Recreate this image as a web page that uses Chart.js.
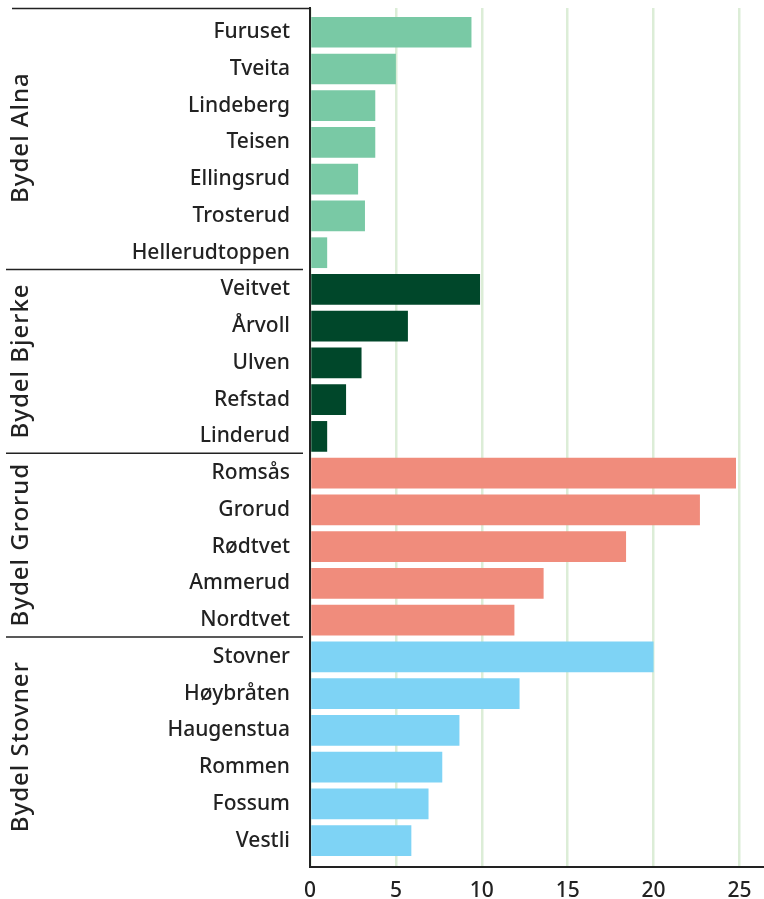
<!DOCTYPE html>
<html>
<head>
<meta charset="utf-8">
<script src="https://cdn.jsdelivr.net/npm/chart.js@4/dist/chart.umd.min.js"></script>
<style>
  html, body { margin: 0; padding: 0; background: #fff; }
  #wrap { width: 764px; height: 899px; }
</style>
</head>
<body>
<div id="wrap"><canvas id="chart"></canvas></div>
<script>
const places = ["Furuset", "Tveita", "Lindeberg", "Teisen", "Ellingsrud", "Trosterud", "Hellerudtoppen",
    "Veitvet", "Årvoll", "Ulven", "Refstad", "Linderud",
    "Romsås", "Grorud", "Rødtvet", "Ammerud", "Nordtvet",
    "Stovner", "Høybråten", "Haugenstua", "Rommen", "Fossum", "Vestli"];
const values = [9.4, 5.0, 3.8, 3.8, 2.8, 3.2, 1.0,
    9.9, 5.7, 3.0, 2.1, 1.0,
    24.8, 22.7, 18.4, 13.6, 11.9,
    20.0, 12.2, 8.7, 7.7, 6.9, 5.9];
const groupNames = ["Bydel Alna", "Bydel Bjerke", "Bydel Grorud", "Bydel Stovner"];
const groupSizes = [7, 5, 5, 6];
const xTicks = [0, 5, 10, 15, 20, 25];

const groupColors = ["#79c9a5", "#00472a", "#f08c7c", "#7ed3f5"];
const FONT = "'Noto Sans', sans-serif";

// which group each bar belongs to
let groupOf = [];
groupSizes.forEach((n, g) => { for (let i = 0; i < n; i++) groupOf.push(g); });

const groupPlugin = {
    id: "groups",
    afterDraw(chart) {
        const ctx = chart.ctx;
        const y = chart.scales.y;
        const area = chart.chartArea;
        ctx.save();
        ctx.strokeStyle = "#222";
        ctx.lineWidth = 1.5;
        // top line
        ctx.beginPath();
        ctx.moveTo(12, area.top + 0.5);
        ctx.lineTo(area.left - 1, area.top + 0.5);
        ctx.stroke();

        let start = 0;
        groupSizes.forEach((n, g) => {
            const end = start + n;
            const top = g === 0 ? area.top : y.getPixelForValue(start - 0.5);
            const bottom = y.getPixelForValue(end - 0.5);
            if (g < groupSizes.length - 1) {
                ctx.beginPath();
                ctx.moveTo(6, bottom - 1.5);
                ctx.lineTo(area.left - 7, bottom - 1.5);
                ctx.stroke();
            }
            ctx.save();
            ctx.translate(28, (top + bottom) / 2 - 2);
            ctx.rotate(-Math.PI / 2);
            ctx.fillStyle = "#222";
            ctx.font = "500 24px " + FONT;
            ctx.letterSpacing = "1px";
            ctx.textAlign = "center";
            ctx.textBaseline = "alphabetic";
            ctx.fillText(groupNames[g], 0, 0);
            ctx.restore();
            start = end;
        });
        ctx.restore();
    }
};

const ctx = document.getElementById("chart").getContext("2d");
new Chart(ctx, {
    type: "bar",
    data: {
        datasets: [{
            data: values.map((v, i) => ({ x: v, y: i })),
            backgroundColor: groupOf.map(g => groupColors[g]),
            barPercentage: 0.836,
            categoryPercentage: 1
        }]
    },
    options: {
        indexAxis: "y",
        responsive: true,
        maintainAspectRatio: false,
        animation: false,
        layout: { padding: { top: 8, right: 0, left: 0, bottom: 0 } },
        plugins: { legend: { display: false }, tooltip: { enabled: false } },
        scales: {
            x: {
                type: "linear",
                min: 0,
                max: 26.43,
                afterBuildTicks: (scale) => { scale.ticks = xTicks.map(v => ({ value: v })); },
                afterFit: (scale) => { scale.height = 32; scale.paddingLeft = 0; scale.paddingRight = 0; },
                grid: { color: "#dcedd7", lineWidth: 2.5, drawTicks: false },
                border: { color: "#222", width: 2 },
                ticks: {
                    padding: 11,
                    color: "#222",
                    font: { family: FONT, size: 21, weight: "500" }
                }
            },
            y: {
                type: "linear",
                offset: false,
                min: -0.66,
                max: 22.72,
                reverse: true,
                afterBuildTicks: (scale) => { scale.ticks = places.map((p, i) => ({ value: i })); },
                afterFit: (scale) => { scale.width = 310; scale.paddingTop = 0; scale.paddingBottom = 0; },
                grid: { display: false, drawTicks: false, offset: false },
                border: { color: "#222", width: 2 },
                ticks: {
                    autoSkip: false,
                    padding: 20,
                    color: "#222",
                    font: { family: FONT, size: 21, weight: "500" },
                    callback: (v) => places[v]
                }
            }
        }
    },
    plugins: [groupPlugin]
});
</script>
</body>
</html>
